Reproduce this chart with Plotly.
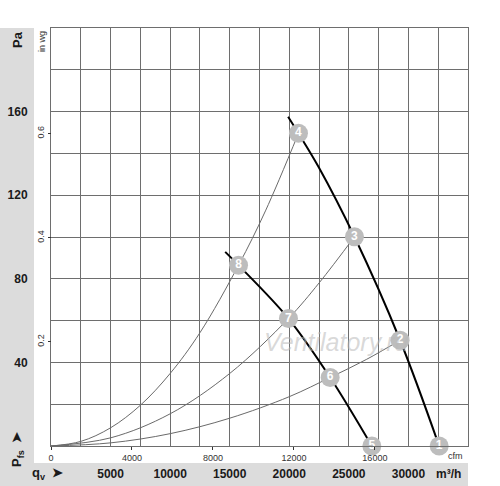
import plotly.graph_objects as go

# ---- data (m3/h, Pa) ----
fan_hi_q = [19900, 20770, 22450, 25470, 29300, 32580]
fan_hi_p = [157.5, 149.6, 133.6, 100.1, 50.6, 0.0]
fan_lo_q = [14620, 15740, 19930, 23430, 26930]
fan_lo_p = [92.9, 86.5, 61.0, 32.8, 0.0]

sys_a_q = [0, 2500, 5000, 7500, 10000, 12500, 15740, 18000, 20770]
sys_a_p = [0, 2.2, 8.7, 19.5, 34.7, 54.2, 86.5, 112.5, 149.6]
sys_b_q = [0, 5000, 10000, 15000, 19930, 22500, 25470]
sys_b_p = [0, 3.9, 15.4, 34.7, 61.0, 78.0, 100.1]
sys_c_q = [0, 5000, 10000, 15000, 20000, 23430, 26500, 29300]
sys_c_p = [0, 1.5, 5.9, 13.3, 23.6, 32.8, 41.5, 50.6]

pt_labels = ["1", "2", "3", "4", "5", "6", "7", "8"]
pt_q = [32580, 29300, 25470, 20770, 26930, 23430, 19930, 15740]
pt_p = [0.0, 50.6, 100.1, 149.6, 0.0, 32.8, 61.0, 86.5]

pa_ticks = [0, 20, 40, 60, 80, 100, 120, 140, 160, 180, 200]
pa_text = ["", "", "40", "", "80", "", "120", "", "160", "", ""]
q_ticks = [0, 2500, 5000, 7500, 10000, 12500, 15000, 17500, 20000, 22500, 25000, 27500, 30000, 32500, 35000]
q_text = ["", "", "5000", "", "10000", "", "15000", "", "20000", "", "25000", "", "30000", "", ""]
cfm_ticks = [0, 4000, 8000, 12000, 16000]
cfm_text = ["0", "4000", "8000", "12000", "16000"]
inwg_ticks = [0.2, 0.4, 0.6]
inwg_text = ["0.2", "0.4", "0.6"]

Q_MAX = 35000
P_MAX = 200
CFM_PER_M3H = 1 / 1.69901
INWG_PER_PA = 1 / 249.089

FONT = "Arial, Liberation Sans, sans-serif"
GRID = "#6e6e6e"

fig = go.Figure()

for q, p in [(sys_a_q, sys_a_p), (sys_b_q, sys_b_p), (sys_c_q, sys_c_p)]:
    fig.add_trace(go.Scatter(x=q, y=p, mode="lines", line=dict(color="#6a6a6a", width=1, shape="spline"),
                             hoverinfo="skip", showlegend=False))

for q, p in [(fan_hi_q, fan_hi_p), (fan_lo_q, fan_lo_p)]:
    fig.add_trace(go.Scatter(x=q, y=p, mode="lines", line=dict(color="black", width=2, shape="spline"),
                             hoverinfo="skip", showlegend=False))

fig.add_trace(go.Scatter(x=pt_q, y=pt_p, mode="markers+text", text=pt_labels,
                         textposition="middle center",
                         textfont=dict(family=FONT, size=12, color="white", weight="bold"),
                         marker=dict(size=19, color="#bdbdbd", line=dict(width=0)),
                         cliponaxis=False, hoverinfo="skip", showlegend=False))

# helper trace for secondary axes
fig.add_trace(go.Scatter(x=[0], y=[0], xaxis="x2", yaxis="y2", mode="markers",
                         marker=dict(opacity=0), hoverinfo="skip", showlegend=False))

L, R, T, B = 51, 32, 28, 40
W, H = 500, 486
pw, ph = W - L - R, H - T - B

def px(xp):
    return (xp - L) / pw

def py(yp):
    return (H - B - yp) / ph

shapes = [
    dict(type="rect", xref="paper", yref="paper", x0=px(0), x1=px(34), y0=py(486), y1=py(28),
         fillcolor="#dcdcdc", line=dict(width=0), layer="below"),
    dict(type="rect", xref="paper", yref="paper", x0=px(0), x1=px(468), y0=py(486), y1=py(463),
         fillcolor="#dcdcdc", line=dict(width=0), layer="below"),
]

annotations = [
    dict(text="<b>Pa</b>", x=px(17), y=py(40), textangle=-90, font=dict(size=13, color="#1a1a1a")),
    dict(text="in wg", x=px(42), y=py(42), textangle=-90, font=dict(size=9, color="#333")),
    dict(text="<b>P<sub>fs</sub>  ➤</b>", x=px(17), y=py(450), textangle=-90, font=dict(size=13, color="#1a1a1a")),
    dict(text="<b>q<sub>v</sub>  ➤</b>", x=px(47), y=py(474), font=dict(size=13, color="#1a1a1a")),
    dict(text="<b>m³/h</b>", x=px(448.5), y=py(473.5), font=dict(size=12, color="#1a1a1a")),
    dict(text="cfm", x=px(455.5), y=py(456), font=dict(size=9, color="#333")),
    dict(text="<i>Ventilatory.ru</i>", x=px(336), y=py(342), font=dict(size=25, color="rgba(185,185,185,0.55)")),
]
for a in annotations:
    a.update(xref="paper", yref="paper", showarrow=False, xanchor="center", yanchor="middle")
    a["font"]["family"] = FONT

fig.update_layout(
    width=W, height=H,
    margin=dict(l=L, r=R, t=T, b=B, autoexpand=False),
    paper_bgcolor="white", plot_bgcolor="white",
    showlegend=False,
    font=dict(family=FONT),
    shapes=shapes,
    annotations=annotations,
    xaxis=dict(range=[0, Q_MAX], tickmode="array", tickvals=q_ticks, ticktext=q_text,
               showgrid=True, gridcolor=GRID, gridwidth=1, zeroline=False, automargin=False,
               showline=True, linecolor=GRID, linewidth=1, mirror=True, ticks="",
               ticklabelstandoff=17,
               tickfont=dict(family=FONT, size=12, color="#1a1a1a", weight="bold")),
    yaxis=dict(range=[0, P_MAX], tickmode="array", tickvals=pa_ticks, ticktext=pa_text,
               showgrid=True, gridcolor=GRID, gridwidth=1, zeroline=False, automargin=False,
               showline=True, linecolor=GRID, linewidth=1, mirror=True, ticks="",
               ticklabelstandoff=20,
               tickfont=dict(family=FONT, size=12, color="#1a1a1a", weight="bold")),
    xaxis2=dict(range=[0, Q_MAX * CFM_PER_M3H], overlaying="x", anchor="y", side="bottom",
                tickmode="array", tickvals=cfm_ticks, ticktext=cfm_text, ticks="outside", ticklen=3,
                tickcolor="#333", showgrid=False, zeroline=False, showline=False, automargin=False,
                tickfont=dict(family=FONT, size=9, color="#333")),
    yaxis2=dict(range=[0, P_MAX * INWG_PER_PA], overlaying="y", anchor="free", position=0, side="left",
                tickmode="array", tickvals=inwg_ticks, ticktext=inwg_text, ticks="outside", ticklen=3,
                tickcolor="#333", automargin=False,
                tickangle=-90, showgrid=False, zeroline=False, showline=False,
                tickfont=dict(family=FONT, size=9, color="#333")),
)

fig.write_html("out.html", config={"displayModeBar": False},
               post_script="document.body.style.margin='0px';")
